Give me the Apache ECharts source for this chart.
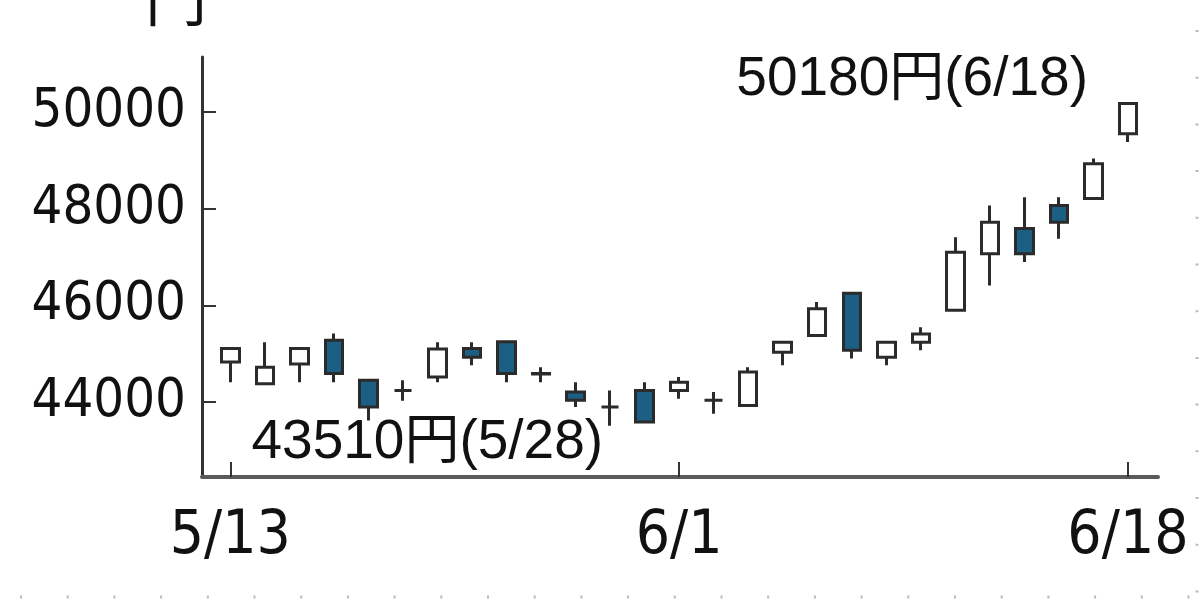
<!DOCTYPE html>
<html>
<head>
<meta charset="utf-8">
<script src="https://cdn.jsdelivr.net/npm/echarts@6/dist/echarts.min.js"></script>
<style>
  html, body { margin: 0; padding: 0; background: #fff; }
  #chart { width: 1200px; height: 600px; }
</style>
</head>
<body>
<div id="chart"></div>
<script>
  // 日足データ (5/13 - 6/18)
  const dates = ['5/13', '5/14', '5/17', '5/18', '5/19', '5/20', '5/21', '5/24', '5/25', '5/26', '5/27', '5/28', '5/31',
    '6/1', '6/2', '6/3', '6/4', '6/7', '6/8', '6/9', '6/10', '6/11', '6/14', '6/15', '6/16', '6/17', '6/18']
  const opens = [44830, 44380, 44790, 45280, 44450, 44240, 44520, 45110, 45250, 44590, 44210, 43900, 44240,
    44240, 44040, 43930, 45030, 45380, 46250, 44930, 45240, 45900, 47070, 47590, 48070, 48210, 49550]
  const closes = [45110, 44720, 45110, 44590, 43900, 44240, 45100, 44930, 44590, 44580, 44040, 43900, 43590,
    44410, 44040, 44620, 45240, 45930, 45070, 45240, 45410, 47100, 47720, 47070, 47720, 48930, 50180]
  const lows = [44410, 44370, 44410, 44410, 43620, 44030, 44410, 44760, 44410, 44410, 43900, 43510, 43580,
    44070, 43760, 43930, 44760, 45380, 44900, 44760, 45070, 45900, 46410, 46900, 47380, 48210, 49380]
  const highs = [45120, 45240, 45120, 45420, 44460, 44450, 45240, 45240, 45250, 44720, 44410, 44240, 44410,
    44520, 44210, 44720, 45240, 46070, 46250, 45250, 45550, 47410, 48070, 48240, 48240, 49040, 50180]
  const yTicks = [44000, 46000, 48000, 50000]
  const xTickIdx = [0, 13, 26]

  const candles = dates.map((d, i) => [i, opens[i], closes[i], lows[i], highs[i]])

  const maxHigh = Math.max(...highs)
  const maxIdx = highs.indexOf(maxHigh)
  const minLow = Math.min(...lows)
  const minIdx = lows.indexOf(minLow)

  const numFont = "'DejaVu Sans Condensed', 'DejaVu Sans', sans-serif"
  const noteFont = "'Liberation Sans', 'Noto Sans CJK JP', sans-serif"

  const chart = echarts.init(document.getElementById('chart'))
  const option = {
    animation: false,
    backgroundColor: '#fff',
    grid: {
      left: 202,
      right: 42,
      top: 57,
      bottom: 123,
      outerBoundsMode: 'none',
      containLabel: false
    },
    xAxis: {
      type: 'value',
      min: -0.82,
      max: 26.87,
      axisLine: { onZero: false, lineStyle: { color: '#5a5a5a', width: 4 } },
      axisTick: { inside: true, length: 15, customValues: xTickIdx, lineStyle: { color: '#333', width: 2 } },
      axisLabel: {
        customValues: xTickIdx,
        formatter: v => dates[v],
        margin: 30,
        fontSize: 60,
        fontFamily: numFont,
        color: '#111'
      },
      splitLine: { show: false }
    },
    yAxis: {
      type: 'value',
      min: 42450,
      max: 51140,
      axisLine: { show: true, onZero: false, lineStyle: { color: '#333', width: 3 } },
      axisTick: { inside: true, length: 14, customValues: yTicks, lineStyle: { color: '#333', width: 2 } },
      axisLabel: {
        customValues: yTicks,
        formatter: v => String(v),
        margin: 16,
        fontSize: 54,
        fontFamily: numFont,
        color: '#111'
      },
      splitLine: { show: false }
    },
    graphic: [
      {
        type: 'text',
        left: 145,
        top: -34,
        style: { text: '円', fontSize: 62, fontFamily: "'Noto Sans CJK JP', sans-serif", fill: '#111' }
      },
      {
        type: 'line',
        shape: { x1: 20, y1: 597, x2: 1200, y2: 597 },
        style: { stroke: '#bbb', lineWidth: 3, lineDash: [2, 44.7] }
      },
      {
        type: 'line',
        shape: { x1: 1197, y1: 0, x2: 1197, y2: 600 },
        style: { stroke: '#bbb', lineWidth: 3, lineDash: [2, 44.7], lineDashOffset: -30 }
      }
    ],
    series: [
      {
        type: 'candlestick',
        encode: { x: 0, y: [1, 2, 3, 4] },
        barWidth: 18,
        itemStyle: {
          color: '#ffffff',
          color0: '#1c5f85',
          borderColor: '#2b2b2b',
          borderColor0: '#2b2b2b',
          borderWidth: 3
        },
        markPoint: {
          symbol: 'circle',
          symbolSize: 0,
          label: {
            fontSize: 55,
            fontFamily: noteFont,
            color: '#111'
          },
          data: [
            {
              coord: [maxIdx, maxHigh],
              label: { position: 'left', distance: 40, offset: [0, -24], formatter: maxHigh + '円(' + dates[maxIdx] + ')' }
            },
            {
              coord: [minIdx, minLow],
              label: { position: 'left', distance: 7, offset: [0, 17], formatter: minLow + '円(' + dates[minIdx] + ')' }
            }
          ]
        },
        data: candles
      }
    ]
  }
  chart.setOption(option)
</script>
</body>
</html>
